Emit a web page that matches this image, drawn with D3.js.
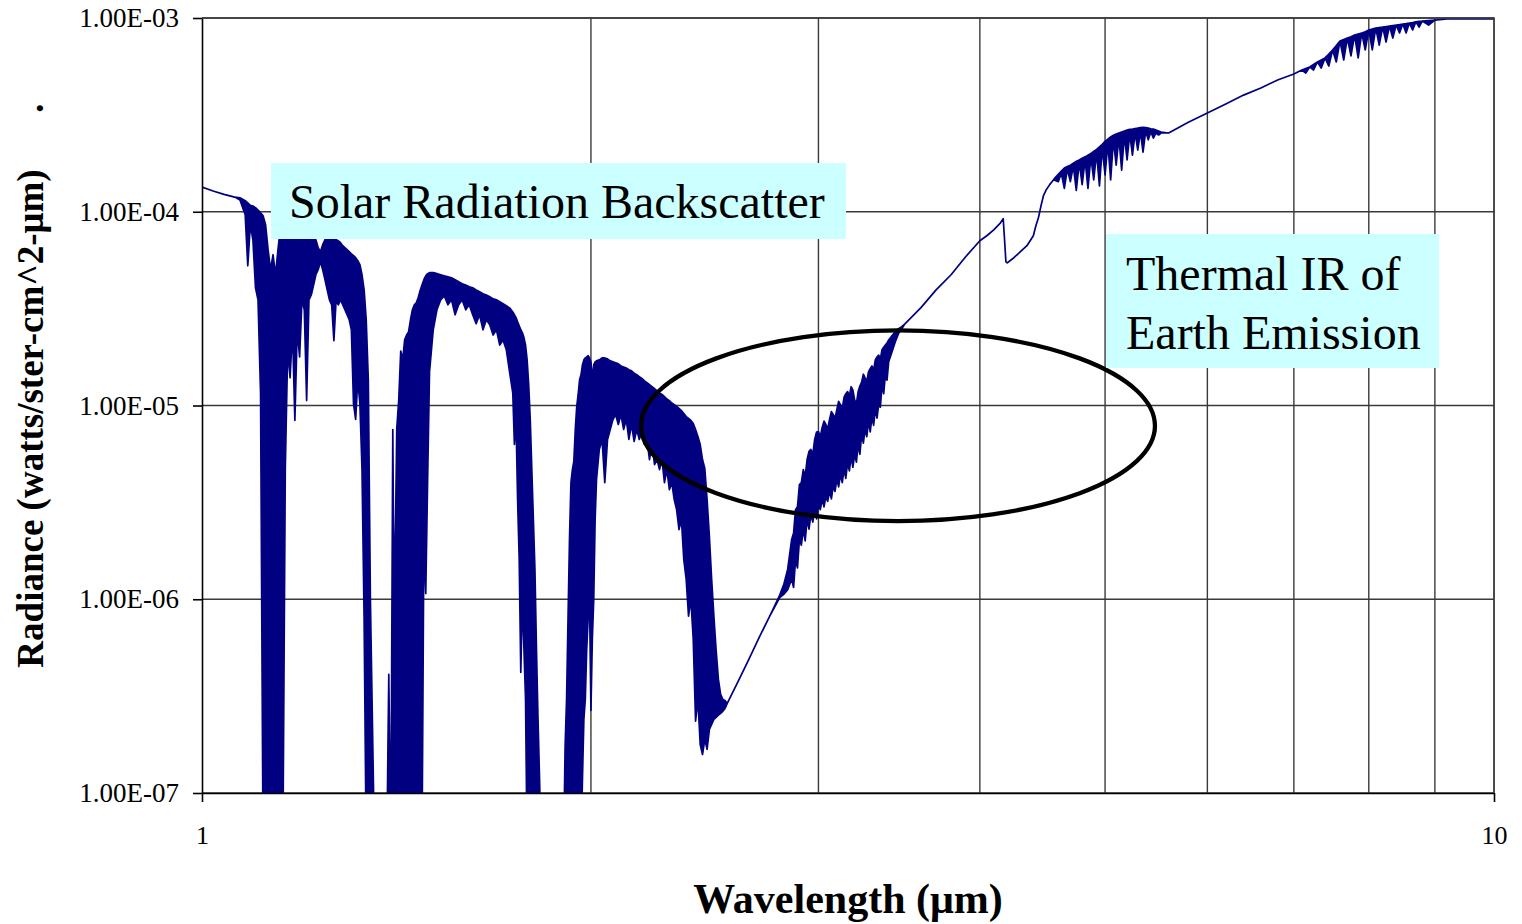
<!DOCTYPE html>
<html>
<head>
<meta charset="utf-8">
<script src="https://cdn.jsdelivr.net/npm/d3@7"></script>
<style>
  html, body { margin: 0; padding: 0; background: #fff; }
  svg { display: block; }
</style>
</head>
<body>
<svg id="chart" width="1522" height="924"></svg>
<script>
// Spectral radiance seen from orbit, sampled as the upper and lower envelope
// of the high-resolution spectrum at each wavelength (μm).
const wavelength = [
  1.00, 1.02, 1.04, 1.06, 1.07, 1.08, 1.085, 1.09, 1.095, 1.10,
  1.105, 1.11, 1.115, 1.12, 1.125, 1.13, 1.135, 1.14, 1.145, 1.15,
  1.155, 1.16, 1.165, 1.17, 1.175, 1.18, 1.185, 1.19, 1.195, 1.20,
  1.205, 1.21, 1.215, 1.22, 1.225, 1.23, 1.235, 1.24, 1.245, 1.25,
  1.255, 1.26, 1.265, 1.27, 1.275, 1.28, 1.285, 1.29, 1.295, 1.30,
  1.305, 1.31, 1.315, 1.32, 1.325, 1.33, 1.335, 1.34, 1.345, 1.35,
  1.36, 1.39, 1.395, 1.40, 1.405, 1.408, 1.412, 1.415, 1.42, 1.425,
  1.43, 1.435, 1.44, 1.445, 1.45, 1.455, 1.46, 1.465, 1.47, 1.475,
  1.48, 1.485, 1.49, 1.495, 1.50, 1.51, 1.52, 1.53, 1.54, 1.55,
  1.56, 1.57, 1.58, 1.59, 1.60, 1.61, 1.62, 1.63, 1.64, 1.65,
  1.66, 1.67, 1.68, 1.69, 1.70, 1.71, 1.72, 1.73, 1.74, 1.745,
  1.75, 1.755, 1.76, 1.765, 1.77, 1.775, 1.78, 1.785, 1.79, 1.795,
  1.80, 1.805, 1.81, 1.815, 1.82, 1.825, 1.83, 1.905, 1.91, 1.915,
  1.92, 1.925, 1.93, 1.935, 1.94, 1.945, 1.95, 1.955, 1.96, 1.965,
  1.97, 1.975, 1.98, 1.985, 1.99, 1.995, 2.00, 2.005, 2.01, 2.015,
  2.02, 2.03, 2.04, 2.05, 2.06, 2.07, 2.08, 2.09, 2.10, 2.11,
  2.12, 2.13, 2.14, 2.15, 2.16, 2.17, 2.18, 2.19, 2.20, 2.21,
  2.22, 2.23, 2.24, 2.25, 2.26, 2.27, 2.28, 2.29, 2.30, 2.31,
  2.32, 2.33, 2.34, 2.35, 2.36, 2.37, 2.38, 2.39, 2.40, 2.41,
  2.42, 2.43, 2.44, 2.45, 2.46, 2.47, 2.48, 2.49, 2.50, 2.51,
  2.52, 2.53, 2.54, 2.55, 2.60, 2.65, 2.70, 2.75, 2.80, 2.82,
  2.84, 2.86, 2.87, 2.88, 2.89, 2.90, 2.91, 2.92, 2.93, 2.94,
  2.95, 2.96, 2.97, 2.98, 2.99, 3.00, 3.01, 3.02, 3.03, 3.04,
  3.05, 3.06, 3.07, 3.08, 3.09, 3.10, 3.11, 3.12, 3.13, 3.14,
  3.15, 3.16, 3.17, 3.18, 3.19, 3.20, 3.21, 3.22, 3.23, 3.24,
  3.25, 3.26, 3.27, 3.28, 3.29, 3.30, 3.31, 3.32, 3.33, 3.34,
  3.35, 3.36, 3.37, 3.38, 3.39, 3.40, 3.42,
  3.44, 3.46, 3.48, 3.50, 3.60, 3.70, 3.80, 3.90, 4.00, 4.05,
  4.10, 4.15, 4.17, 4.18, 4.19, 4.20, 4.25, 4.30, 4.35, 4.40,
  4.42, 4.44, 4.46, 4.48, 4.50, 4.53, 4.56, 4.575, 4.60, 4.625,
  4.65, 4.675, 4.70, 4.725, 4.75, 4.775, 4.80, 4.825, 4.85, 4.875,
  4.90, 4.925, 4.95, 4.975, 5.00, 5.025, 5.05, 5.075, 5.10, 5.125,
  5.15, 5.175, 5.20, 5.225, 5.25, 5.275, 5.30, 5.325, 5.35, 5.375,
  5.40, 5.425, 5.45, 5.475, 5.50, 5.525, 5.60, 5.80, 6.00, 6.20,
  6.40, 6.60, 6.80, 7.00, 7.10, 7.15, 7.20, 7.25, 7.30, 7.35,
  7.40, 7.45, 7.50, 7.55, 7.60, 7.65, 7.70, 7.75, 7.80, 7.85,
  7.90, 7.95, 8.00, 8.05, 8.10, 8.15, 8.20, 8.25, 8.30, 8.35,
  8.40, 8.45, 8.50, 8.55, 8.60, 8.65, 8.70, 8.75, 8.80, 8.90,
  9.00, 9.20, 9.50, 10.0
];

// Upper envelope, watts/ster-cm^2-μm
const radianceUpper = [
  1.34e-4, 1.28e-4, 1.23e-4, 1.19e-4, 1.18e-4, 1.14e-4, 1.11e-4, 1.08e-4, 1.07e-4, 1.05e-4,
  1.02e-4, 9.88e-5, 9.53e-5, 8.57e-5, 6.37e-5, 5.02e-5, 6.00e-5, 4.73e-5, 6.37e-5, 8.27e-5,
  8.47e-5, 8.57e-5, 8.47e-5, 8.57e-5, 8.47e-5, 8.27e-5, 8.27e-5, 8.07e-5, 8.07e-5, 8.07e-5,
  7.88e-5, 7.79e-5, 7.70e-5, 7.61e-5, 7.17e-5, 6.52e-5, 6.22e-5, 6.76e-5, 7.17e-5, 7.34e-5,
  7.34e-5, 7.34e-5, 7.25e-5, 7.17e-5, 7.08e-5, 6.92e-5, 6.68e-5, 6.52e-5, 6.37e-5, 6.22e-5,
  6.07e-5, 5.93e-5, 5.79e-5, 5.59e-5, 5.33e-5, 4.73e-5, 3.95e-5, 2.77e-5, 1.36e-5, 1.00e-6,
  5e-8, 5e-8, 4.10e-7, 5e-8, 7.52e-6, 1.00e-6, 2.55e-6, 7.61e-6, 1.07e-5, 1.91e-5,
  1.72e-5, 2.18e-5, 2.31e-5, 2.40e-5, 2.77e-5, 3.12e-5, 3.31e-5, 3.39e-5, 3.60e-5, 3.91e-5,
  4.19e-5, 4.46e-5, 4.67e-5, 4.79e-5, 4.85e-5, 4.85e-5, 4.79e-5, 4.73e-5, 4.67e-5, 4.62e-5,
  4.56e-5, 4.46e-5, 4.35e-5, 4.25e-5, 4.19e-5, 4.10e-5, 4.05e-5, 3.95e-5, 3.86e-5, 3.77e-5,
  3.72e-5, 3.64e-5, 3.55e-5, 3.51e-5, 3.43e-5, 3.35e-5, 3.27e-5, 3.19e-5, 3.04e-5, 2.94e-5,
  2.84e-5, 2.70e-5, 2.58e-5, 2.46e-5, 2.37e-5, 2.24e-5, 2.05e-5, 1.72e-5, 1.28e-5, 8.47e-6,
  4.67e-6, 2.58e-6, 1.43e-6, 5.52e-7, 2.40e-7, 1.18e-7, 5e-8, 5e-8, 1.72e-7, 3.04e-7,
  7.88e-7, 2.03e-6, 4.00e-6, 4.67e-6, 5.14e-6, 7.52e-6, 9.88e-6, 1.14e-5, 1.36e-5, 1.44e-5,
  1.62e-5, 1.72e-5, 1.76e-5, 1.78e-5, 1.81e-5, 1.76e-5, 1.68e-5, 1.36e-5, 1.62e-5, 1.68e-5,
  1.70e-5, 1.72e-5, 1.76e-5, 1.76e-5, 1.74e-5, 1.70e-5, 1.68e-5, 1.66e-5, 1.64e-5, 1.60e-5,
  1.58e-5, 1.56e-5, 1.53e-5, 1.51e-5, 1.47e-5, 1.44e-5, 1.41e-5, 1.38e-5, 1.34e-5, 1.31e-5,
  1.28e-5, 1.25e-5, 1.22e-5, 1.19e-5, 1.16e-5, 1.14e-5, 1.11e-5, 1.08e-5, 1.06e-5, 1.03e-5,
  1.01e-5, 9.88e-6, 9.65e-6, 9.42e-6, 9.09e-6, 8.77e-6, 8.57e-6, 8.37e-6, 8.07e-6, 7.52e-6,
  6.92e-6, 6.29e-6, 5.26e-6, 4.73e-6, 3.27e-6, 2.11e-6, 1.27e-6, 8.17e-7, 5.45e-7, 3.87e-7,
  3.23e-7, 3.04e-7, 3.00e-7, 2.90e-7, 3.77e-7, 4.90e-7, 6.37e-7, 8.17e-7, 1.05e-6, 1.19e-6,
  1.43e-6, 2.03e-6, 2.20e-6, 2.90e-6, 3.00e-6, 3.91e-6, 4.00e-6, 4.67e-6, 4.30e-6, 5.26e-6,
  5.80e-6, 5.93e-6, 5.60e-6, 6.68e-6, 7.30e-6, 7.34e-6, 6.90e-6, 7.70e-6, 8.30e-6, 7.98e-6,
  7.60e-6, 8.47e-6, 9.30e-6, 8.98e-6, 8.60e-6, 9.53e-6, 1.05e-5, 1.01e-5, 9.60e-6, 1.10e-5,
  1.15e-5, 1.18e-5, 1.12e-5, 1.25e-5, 1.20e-5, 1.07e-5, 1.02e-5, 1.18e-5, 1.26e-5, 1.32e-5,
  1.45e-5, 1.39e-5, 1.33e-5, 1.49e-5, 1.55e-5, 1.60e-5, 1.52e-5, 1.72e-5, 1.78e-5, 1.82e-5,
  1.74e-5, 1.94e-5, 2.00e-5, 2.05e-5, 2.10e-5, 2.18e-5, 2.29e-5,
  2.40e-5, 2.49e-5, 2.55e-5, 2.64e-5, 3.19e-5, 3.95e-5, 4.73e-5, 5.86e-5, 7.08e-5, 7.52e-5,
  8.07e-5, 8.77e-5, 9.20e-5, 7.17e-5, 5.52e-5, 5.45e-5, 5.79e-5, 6.22e-5, 6.68e-5, 7.52e-5,
  8.47e-5, 9.31e-5, 1.07e-4, 1.21e-4, 1.29e-4, 1.38e-4, 1.46e-4, 1.50e-4, 1.56e-4, 1.62e-4,
  1.68e-4, 1.71e-4, 1.74e-4, 1.78e-4, 1.82e-4, 1.85e-4, 1.89e-4, 1.92e-4, 1.96e-4, 2.00e-4,
  2.05e-4, 2.10e-4, 2.16e-4, 2.23e-4, 2.31e-4, 2.37e-4, 2.43e-4, 2.48e-4, 2.52e-4, 2.55e-4,
  2.58e-4, 2.61e-4, 2.64e-4, 2.66e-4, 2.67e-4, 2.69e-4, 2.70e-4, 2.72e-4, 2.73e-4, 2.72e-4,
  2.70e-4, 2.68e-4, 2.67e-4, 2.64e-4, 2.61e-4, 2.58e-4, 2.55e-4, 2.90e-4, 3.23e-4, 3.60e-4,
  4.00e-4, 4.35e-4, 4.79e-4, 5.14e-4, 5.39e-4, 5.49e-4, 5.59e-4, 5.76e-4, 5.93e-4, 6.07e-4,
  6.22e-4, 6.52e-4, 6.84e-4, 7.20e-4, 7.61e-4, 7.75e-4, 7.88e-4, 8.00e-4, 8.17e-4, 8.27e-4,
  8.37e-4, 8.50e-4, 8.67e-4, 8.78e-4, 8.88e-4, 8.93e-4, 8.98e-4, 9.03e-4, 9.09e-4, 9.15e-4,
  9.20e-4, 9.25e-4, 9.31e-4, 9.36e-4, 9.42e-4, 9.48e-4, 9.55e-4, 9.60e-4, 9.65e-4, 9.70e-4,
  9.76e-4, 9.88e-4, 9.88e-4, 9.88e-4
];

// Lower envelope (deepest absorption within each sample), watts/ster-cm^2-μm
const radianceLower = [
  1.34e-4, 1.28e-4, 1.23e-4, 1.19e-4, 1.15e-4, 9.65e-5, 5.26e-5, 8.57e-5, 7.17e-5, 4.05e-5,
  3.51e-5, 1.16e-5, 5e-8, 5e-8, 5e-8, 5e-8, 5e-8, 5e-8, 5e-8, 5e-8,
  5e-8, 4.67e-6, 1.94e-5, 1.39e-5, 2.46e-5, 8.37e-6, 2.46e-5, 1.78e-5, 3.51e-5, 3.12e-5,
  1.06e-5, 3.51e-5, 3.72e-5, 4.19e-5, 4.73e-5, 5.02e-5, 5.52e-5, 5.02e-5, 4.46e-5, 3.95e-5,
  3.51e-5, 3.31e-5, 2.16e-5, 3.51e-5, 3.31e-5, 3.51e-5, 3.31e-5, 3.12e-5, 2.94e-5, 2.77e-5,
  2.46e-5, 1.02e-5, 8.47e-6, 1.36e-5, 1.02e-5, 4.67e-6, 7.88e-7, 5e-8, 5e-8, 5e-8,
  5e-8, 5e-8, 5e-8, 5e-8, 5e-8, 5e-8, 5e-8, 5e-8, 5e-8, 5e-8,
  5e-8, 5e-8, 5e-8, 5e-8, 5e-8, 5e-8, 5e-8, 5e-8, 5e-8, 5e-8,
  5e-8, 1.99e-6, 1.07e-6, 4.19e-6, 1.49e-5, 2.46e-5, 3.12e-5, 3.51e-5, 3.68e-5, 3.31e-5,
  3.51e-5, 2.94e-5, 3.31e-5, 3.51e-5, 3.12e-5, 3.31e-5, 2.94e-5, 2.64e-5, 2.94e-5, 2.46e-5,
  2.77e-5, 2.61e-5, 2.31e-5, 2.46e-5, 2.05e-5, 2.18e-5, 1.94e-5, 1.49e-5, 1.16e-5, 6.29e-6,
  8.47e-6, 3.27e-6, 1.60e-6, 4.19e-7, 1.00e-6, 5.52e-7, 3.04e-7, 5e-8, 1.49e-7, 5e-8,
  5e-8, 5e-8, 5e-8, 5e-8, 5e-8, 5e-8, 5e-8, 5e-8, 5e-8, 5e-8,
  5e-8, 5e-8, 5e-8, 5e-8, 5e-8, 5e-8, 5e-8, 5e-8, 5e-8, 5e-8,
  1.18e-7, 2.40e-7, 3.04e-7, 5.52e-7, 7.88e-7, 1.00e-6, 2.67e-7, 6.22e-7, 1.00e-6, 2.58e-6,
  4.15e-6, 5.93e-6, 6.68e-6, 4.00e-6, 6.68e-6, 7.52e-6, 8.47e-6, 8.98e-6, 7.98e-6, 8.98e-6,
  7.52e-6, 8.47e-6, 6.68e-6, 7.98e-6, 6.52e-6, 7.52e-6, 6.68e-6, 7.34e-6, 6.29e-6, 6.68e-6,
  5.26e-6, 6.29e-6, 4.96e-6, 5.26e-6, 4.67e-6, 5.26e-6, 4.00e-6, 4.67e-6, 3.68e-6, 4.00e-6,
  3.27e-6, 2.90e-6, 2.29e-6, 2.58e-6, 1.60e-6, 1.27e-6, 8.17e-7, 1.00e-6, 6.22e-7, 2.35e-7,
  3.04e-7, 1.78e-7, 1.58e-7, 1.89e-7, 1.68e-7, 2.13e-7, 2.26e-7, 2.40e-7, 2.46e-7, 2.52e-7,
  2.58e-7, 2.64e-7, 2.73e-7, 2.90e-7, 3.77e-7, 4.90e-7, 6.37e-7, 8.17e-7, 1.02e-6, 1.06e-6,
  1.12e-6, 1.27e-6, 1.15e-6, 1.60e-6, 1.45e-6, 2.03e-6, 1.90e-6, 2.29e-6, 2.00e-6, 2.58e-6,
  2.30e-6, 2.73e-6, 2.50e-6, 2.90e-6, 2.60e-6, 3.08e-6, 2.90e-6, 3.27e-6, 3.00e-6, 3.39e-6,
  3.20e-6, 3.60e-6, 3.30e-6, 3.82e-6, 3.60e-6, 4.15e-6, 3.80e-6, 4.40e-6, 4.00e-6, 4.67e-6,
  4.20e-6, 5.08e-6, 4.60e-6, 5.45e-6, 4.80e-6, 5.59e-6, 5.10e-6, 6.29e-6, 5.60e-6, 7.08e-6,
  6.40e-6, 7.52e-6, 6.90e-6, 8.27e-6, 7.30e-6, 8.67e-6, 7.90e-6, 9.53e-6, 8.60e-6, 1.01e-5,
  9.80e-6, 1.28e-5, 1.15e-5, 1.44e-5, 1.35e-5, 1.68e-5, 1.89e-5,
  2.13e-5, 2.35e-5, 2.49e-5, 2.64e-5, 3.19e-5, 3.95e-5, 4.73e-5, 5.86e-5, 7.08e-5, 7.52e-5,
  8.07e-5, 8.77e-5, 9.20e-5, 7.17e-5, 5.52e-5, 5.45e-5, 5.79e-5, 6.22e-5, 6.68e-5, 7.52e-5,
  8.47e-5, 9.31e-5, 1.07e-4, 1.21e-4, 1.29e-4, 1.38e-4, 1.46e-4, 1.45e-4, 1.43e-4, 1.58e-4,
  1.32e-4, 1.66e-4, 1.43e-4, 1.72e-4, 1.29e-4, 1.79e-4, 1.38e-4, 1.85e-4, 1.32e-4, 1.92e-4,
  1.46e-4, 2.02e-4, 1.36e-4, 2.12e-4, 1.55e-4, 2.25e-4, 1.46e-4, 2.35e-4, 1.74e-4, 2.42e-4,
  1.64e-4, 2.48e-4, 1.85e-4, 2.52e-4, 1.96e-4, 2.55e-4, 2.08e-4, 2.58e-4, 2.03e-4, 2.60e-4,
  2.35e-4, 2.58e-4, 2.40e-4, 2.55e-4, 2.49e-4, 2.55e-4, 2.55e-4, 2.90e-4, 3.23e-4, 3.60e-4,
  4.00e-4, 4.35e-4, 4.79e-4, 5.14e-4, 5.39e-4, 5.20e-4, 5.59e-4, 5.39e-4, 5.93e-4, 5.52e-4,
  6.22e-4, 5.65e-4, 6.84e-4, 5.93e-4, 7.61e-4, 6.07e-4, 7.88e-4, 6.37e-4, 8.17e-4, 6.22e-4,
  8.37e-4, 6.84e-4, 8.67e-4, 6.84e-4, 8.88e-4, 7.25e-4, 8.98e-4, 7.52e-4, 9.09e-4, 7.88e-4,
  9.20e-4, 8.37e-4, 9.31e-4, 8.37e-4, 9.42e-4, 8.67e-4, 9.55e-4, 8.98e-4, 9.65e-4, 9.20e-4,
  9.76e-4, 9.88e-4, 9.88e-4, 9.88e-4
];

// Axis ticks and grid
const yTickValues = [1e-7, 1e-6, 1e-5, 1e-4, 1e-3];
const xTickValues = [1, 10];
const xGridValues = [2, 3, 4, 5, 6, 7, 8, 9, 10];

// Annotation text
const solarLabel = "Solar Radiation Backscatter";
const thermalLabel = ["Thermal IR of", "Earth Emission"];
// Highlighted region (wavelength μm, radiance) bounding the ellipse
const highlightWl = [2.187, 5.465];
const highlightRad = [2.53e-6, 2.44e-5];

if (radianceUpper.length !== wavelength.length || radianceLower.length !== wavelength.length) {
  throw new Error("series length mismatch: " + wavelength.length + " / " +
    radianceUpper.length + " / " + radianceLower.length);
}

const W = 1522, H = 924;
const margin = { top: 18, right: 28, bottom: 131, left: 202 };
const serif = "'Liberation Serif', 'Times New Roman', Times, serif";
const navy = "#000080";

const svg = d3.select("#chart");

const x = d3.scaleLog().domain([1, 10]).range([margin.left, W - margin.right]);
const y = d3.scaleLog().domain([1e-7, 1e-3]).range([H - margin.bottom, margin.top]);

// Grid
const grid = svg.append("g").attr("stroke", "#3a3a3a").attr("stroke-width", 1.4);
grid.selectAll("line.h").data(yTickValues).join("line").attr("class", "h")
  .attr("x1", x(1)).attr("x2", x(10))
  .attr("y1", d => y(d)).attr("y2", d => y(d));
grid.selectAll("line.v").data(xGridValues).join("line").attr("class", "v")
  .attr("x1", d => x(d)).attr("x2", d => x(d))
  .attr("y1", y(1e-7)).attr("y2", y(1e-3));

// Spectrum
svg.append("defs").append("clipPath").attr("id", "plotClip")
  .append("rect")
  .attr("x", x(1)).attr("y", y(1e-3))
  .attr("width", x(10) - x(1)).attr("height", y(1e-7) - y(1e-3));

const spectrum = wavelength.map((w, i) => ({ w, hi: radianceUpper[i], lo: radianceLower[i] }));
const area = d3.area()
  .x(d => x(d.w))
  .y0(d => y(d.lo))
  .y1(d => y(d.hi));

svg.append("path")
  .datum(spectrum)
  .attr("clip-path", "url(#plotClip)")
  .attr("d", area)
  .attr("fill", navy)
  .attr("stroke", navy)
  .attr("stroke-width", 1.7)
  .attr("stroke-linejoin", "round");

// Axes
const fmtSci = d => {
  const e = Math.round(Math.log10(d));
  const m = d / Math.pow(10, e);
  return m.toFixed(2) + "E" + (e < 0 ? "-" : "+") + String(Math.abs(e)).padStart(2, "0");
};

const yAxis = svg.append("g")
  .attr("transform", `translate(${x(1)},0)`)
  .call(d3.axisLeft(y).tickValues(yTickValues).tickFormat(fmtSci)
    .tickSizeInner(9).tickSizeOuter(0).tickPadding(14));

const xAxis = svg.append("g")
  .attr("transform", `translate(0,${y(1e-7)})`)
  .call(d3.axisBottom(x).tickValues(xTickValues).tickFormat(d3.format("d"))
    .tickSizeInner(9).tickSizeOuter(0).tickPadding(24));

[yAxis, xAxis].forEach(g => {
  g.select(".domain").attr("stroke", "#000").attr("stroke-width", 1.6);
  g.selectAll(".tick line").attr("stroke", "#000").attr("stroke-width", 1.6);
  g.selectAll(".tick text").attr("fill", "#000").attr("font-family", serif);
});
yAxis.selectAll(".tick text").attr("font-size", 27);
xAxis.selectAll(".tick text").attr("font-size", 26);

// Plot frame (top and right edges)
svg.append("path")
  .attr("d", `M${x(1)},${y(1e-3)}H${x(10)}V${y(1e-7)}`)
  .attr("fill", "none").attr("stroke", "#3a3a3a").attr("stroke-width", 1.4);

// Axis titles
svg.append("text")
  .attr("x", (x(1) + x(10)) / 2).attr("y", 913)
  .attr("text-anchor", "middle")
  .attr("font-family", serif).attr("font-weight", "bold").attr("font-size", 42)
  .attr("fill", "#000")
  .text("Wavelength (μm)");

svg.append("text")
  .attr("transform", "translate(43,418.5) rotate(-90)")
  .attr("text-anchor", "middle")
  .attr("font-family", serif).attr("font-weight", "bold").attr("font-size", 37)
  .attr("fill", "#000")
  .text("Radiance (watts/ster-cm^2-μm)");

svg.append("text")
  .attr("transform", "translate(43,108) rotate(-90)")
  .attr("text-anchor", "middle")
  .attr("font-family", serif).attr("font-weight", "bold").attr("font-size", 37)
  .attr("fill", "#000")
  .text(".");

// Highlight ellipse around the 3–5 μm crossover
const ex0 = x(highlightWl[0]), ex1 = x(highlightWl[1]);
const ey0 = y(highlightRad[1]), ey1 = y(highlightRad[0]);
svg.append("ellipse")
  .attr("cx", (ex0 + ex1) / 2).attr("cy", (ey0 + ey1) / 2)
  .attr("rx", (ex1 - ex0) / 2).attr("ry", (ey1 - ey0) / 2)
  .attr("fill", "none").attr("stroke", "#000").attr("stroke-width", 4.3);

// Annotation boxes
const solar = svg.append("g");
solar.append("rect")
  .attr("x", 271).attr("y", 163).attr("width", 575).attr("height", 76)
  .attr("fill", "#ccffff");
solar.append("text")
  .attr("x", 289).attr("y", 218)
  .attr("font-family", serif).attr("font-size", 48).attr("fill", "#000")
  .text(solarLabel);

const thermal = svg.append("g");
thermal.append("rect")
  .attr("x", 1106).attr("y", 234).attr("width", 333).attr("height", 134)
  .attr("fill", "#ccffff");
thermal.selectAll("text").data(thermalLabel).join("text")
  .attr("x", 1126).attr("y", (d, i) => 290 + i * 59)
  .attr("font-family", serif).attr("font-size", 48).attr("fill", "#000")
  .text(d => d);
</script>
</body>
</html>
